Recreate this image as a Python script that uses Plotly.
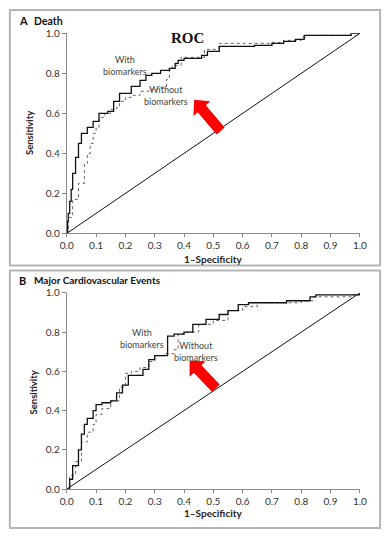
import plotly.graph_objects as go

# ---------------- data ----------------
# Panel A: Death
a_with_x = [0, 0.003, 0.005, 0.01, 0.015, 0.02, 0.03, 0.04, 0.05, 0.07, 0.09, 0.11, 0.14, 0.16, 0.18, 0.21,
            0.22, 0.25, 0.27, 0.29, 0.32, 0.35, 0.37, 0.38, 0.40, 0.46, 0.48, 0.52, 0.64, 0.70, 0.74, 0.78,
            0.81, 0.96, 0.97, 1.0]
a_with_y = [0, 0.06, 0.10, 0.16, 0.22, 0.30, 0.38, 0.45, 0.50, 0.53, 0.56, 0.60, 0.61, 0.66, 0.70, 0.70,
            0.735, 0.765, 0.79, 0.80, 0.815, 0.825, 0.85, 0.865, 0.875, 0.89, 0.91, 0.935, 0.94, 0.95, 0.96,
            0.97, 0.99, 0.99, 1.0, 1.0]
a_without_x = [0, 0.005, 0.02, 0.04, 0.06, 0.07, 0.08, 0.09, 0.10, 0.11, 0.13, 0.15, 0.17, 0.18, 0.20,
               0.22, 0.25, 0.28, 0.31, 0.34, 0.35, 0.36, 0.39, 0.44, 0.47, 0.52, 0.70, 0.74, 0.80, 0.82,
               0.96, 1.0]
a_without_y = [0, 0.08, 0.17, 0.25, 0.35, 0.40, 0.45, 0.50, 0.53, 0.58, 0.60, 0.62, 0.63, 0.66, 0.68,
               0.69, 0.71, 0.72, 0.73, 0.77, 0.815, 0.84, 0.88, 0.88, 0.92, 0.95, 0.955, 0.965, 0.98, 0.99,
               0.99, 1.0]

# Panel B: Major Cardiovascular Events
b_with_x = [0, 0.01, 0.02, 0.04, 0.05, 0.06, 0.07, 0.09, 0.10, 0.12, 0.15, 0.17, 0.19, 0.21, 0.24, 0.26,
            0.28, 0.30, 0.32, 0.344, 0.366, 0.40, 0.43, 0.475, 0.50, 0.52, 0.55, 0.585, 0.62, 0.70,
            0.75, 0.83, 0.85, 0.98, 1.0]
b_with_y = [0, 0.05, 0.12, 0.20, 0.28, 0.33, 0.36, 0.40, 0.43, 0.44, 0.45, 0.49, 0.53, 0.58, 0.58, 0.61,
            0.66, 0.68, 0.68, 0.78, 0.79, 0.80, 0.84, 0.865, 0.865, 0.89, 0.91, 0.94, 0.95, 0.95,
            0.96, 0.98, 0.99, 0.99, 1.0]
b_without_x = [0, 0.01, 0.03, 0.05, 0.07, 0.09, 0.10, 0.12, 0.15, 0.18, 0.20, 0.22, 0.25, 0.28, 0.30,
               0.33, 0.366, 0.38, 0.40, 0.45, 0.50, 0.55, 0.60, 0.65, 0.72, 0.80, 0.84, 0.97, 1.0]
b_without_y = [0, 0.07, 0.14, 0.24, 0.29, 0.33, 0.38, 0.41, 0.45, 0.52, 0.59, 0.60, 0.62, 0.65, 0.68,
               0.69, 0.71, 0.79, 0.80, 0.84, 0.86, 0.91, 0.93, 0.95, 0.95, 0.96, 0.98, 0.99, 1.0]

diag = [0, 1]
tick_x = [0, 0.1, 0.2, 0.3, 0.4, 0.5, 0.6, 0.7, 0.8, 0.9, 1.0]
tick_y = [0, 0.2, 0.4, 0.6, 0.8, 1.0]

# arrow (tail -> tip) in data coordinates
arrow_a = [(0.525, 0.512), (0.435, 0.668)]
arrow_b = [(0.509, 0.514), (0.419, 0.655)]

# ---------------- layout geometry ----------------
W, H = 390, 538
X0, X1 = 62, 366            # pixel extent of plot area
A_TOP, A_BOT = 27, 232
B_TOP, B_BOT = 293, 494

fig = go.Figure()


def add_panel(xs1, ys1, xs2, ys2, xa, ya):
    fig.add_trace(go.Scatter(x=diag, y=diag, mode="lines", line=dict(color="#111", width=1),
                             xaxis=xa, yaxis=ya, showlegend=False, hoverinfo="skip"))
    fig.add_trace(go.Scatter(x=xs2, y=ys2, mode="lines", line_shape="hv",
                             line=dict(color="#666", width=1, dash="dot"),
                             xaxis=xa, yaxis=ya, showlegend=False, name="Without biomarkers"))
    fig.add_trace(go.Scatter(x=xs1, y=ys1, mode="lines", line_shape="hv",
                             line=dict(color="#111", width=1.3),
                             xaxis=xa, yaxis=ya, showlegend=False, name="With biomarkers"))


add_panel(a_with_x, a_with_y, a_without_x, a_without_y, "x", "y")
add_panel(b_with_x, b_with_y, b_without_x, b_without_y, "x2", "y2")

tick_font = dict(family="Lato, Open Sans, sans-serif", size=10, color="#333")
xcommon = dict(range=[0, 1], tickvals=tick_x, tickformat=".1f", ticks="outside", ticklen=3,
               tickcolor="#888", showline=True, linecolor="#888", linewidth=1, showgrid=False,
               zeroline=False, tickfont=tick_font, fixedrange=True,
               domain=[X0 / W, X1 / W])
ycommon = dict(range=[0, 1], tickvals=tick_y, tickformat=".1f", ticks="outside", ticklen=4,
               tickcolor="#888", showline=True, linecolor="#888", linewidth=1, showgrid=False,
               zeroline=False, tickfont=tick_font, fixedrange=True)

fig.update_layout(
    width=W, height=H, margin=dict(l=0, r=0, t=0, b=0),
    paper_bgcolor="white", plot_bgcolor="white",
    xaxis=dict(xcommon, anchor="y"),
    yaxis=dict(ycommon, anchor="x", domain=[1 - A_BOT / H, 1 - A_TOP / H]),
    xaxis2=dict(xcommon, anchor="y2"),
    yaxis2=dict(ycommon, anchor="x2", domain=[1 - B_BOT / H, 1 - B_TOP / H]),
)

# panel borders
for (t, b) in [(3, 265), (270, 534)]:
    fig.add_shape(type="rect", xref="paper", yref="paper", x0=3 / W, x1=387 / W,
                  y0=1 - b / H, y1=1 - t / H, line=dict(color="#b5b5b5", width=2))


def ann(text, px, py, size, bold=False, family="Lato, Open Sans, sans-serif", color="#222",
        xanchor="center", angle=0):
    fig.add_annotation(text=f"<b>{text}</b>" if bold else text, x=px / W, y=1 - py / H,
                       xref="paper", yref="paper", showarrow=False, xanchor=xanchor,
                       yanchor="middle", textangle=angle, borderpad=0,
                       font=dict(family=family, size=size, color=color))


# panel titles
ann("A", 11, 14, 11, bold=True, color="#111", xanchor="left")
ann("Death", 27, 14, 10.5, bold=True, color="#111", xanchor="left")
ann("B", 11, 280, 11, bold=True, color="#111", xanchor="left")
ann("Major Cardiovascular Events", 27, 280, 10, bold=True, color="#111", xanchor="left")

# axis titles
ann("1–Specificity", 214, 258.5, 10, bold=True, color="#222")
ann("1–Specificity", 214, 519, 10, bold=True, color="#222")
ann("Sensitivity", 24, 129, 9.5, bold=True, color="#222", angle=-90)
ann("Sensitivity", 27, 395, 9.5, bold=True, color="#222", angle=-90)

# ROC label
ann("<b>ROC</b>", 187, 32, 15, family="Liberation Serif, DejaVu Serif, serif", color="#111")


def data_ann(text, x, y, xa, ya):
    fig.add_annotation(text=text, x=x, y=y, xref=xa, yref=ya, showarrow=False,
                       font=dict(family="Lato, Open Sans, sans-serif", size=9, color="#444"),
                       align="center")


data_ann("With<br>biomarkers", 0.20, 0.84, "x", "y")
data_ann("Without<br>biomarkers", 0.34, 0.69, "x", "y")
data_ann("With<br>biomarkers", 0.255, 0.77, "x2", "y2")
data_ann("Without<br>biomarkers", 0.44, 0.70, "x2", "y2")


# red arrows as polygons (computed in pixel space, output in paper coords)
def arrow_path(tail, tip, top, bot, shaft_w=11, head_w=23, head_len=12):
    import math
    def to_px(p):
        return (X0 + p[0] * (X1 - X0), bot - p[1] * (bot - top))
    tx, ty = to_px(tail)
    hx, hy = to_px(tip)
    dx, dy = hx - tx, hy - ty
    L = math.hypot(dx, dy)
    ux, uy = dx / L, dy / L
    nx, ny = -uy, ux
    bx, by = hx - ux * head_len, hy - uy * head_len
    pts = [
        (tx + nx * shaft_w / 2, ty + ny * shaft_w / 2),
        (bx + nx * shaft_w / 2, by + ny * shaft_w / 2),
        (bx + nx * head_w / 2, by + ny * head_w / 2),
        (hx, hy),
        (bx - nx * head_w / 2, by - ny * head_w / 2),
        (bx - nx * shaft_w / 2, by - ny * shaft_w / 2),
        (tx - nx * shaft_w / 2, ty - ny * shaft_w / 2),
    ]
    return "M " + " L ".join(f"{px / W:.5f},{1 - py / H:.5f}" for px, py in pts) + " Z"


fig.add_shape(type="path", xref="paper", yref="paper", path=arrow_path(*arrow_a, A_TOP, A_BOT),
              fillcolor="#ff0000", line=dict(color="#ff0000", width=0))
fig.add_shape(type="path", xref="paper", yref="paper", path=arrow_path(*arrow_b, B_TOP, B_BOT),
              fillcolor="#ff0000", line=dict(color="#ff0000", width=0))

fig.write_html(
    "out.html",
    config={"displayModeBar": False},
    post_script=(
        "document.documentElement.style.margin='0';"
        "document.documentElement.style.overflow='hidden';"
        "document.body.style.margin='0';"
        "document.body.style.padding='0';"
        "document.body.style.overflow='hidden';"
    ),
)
